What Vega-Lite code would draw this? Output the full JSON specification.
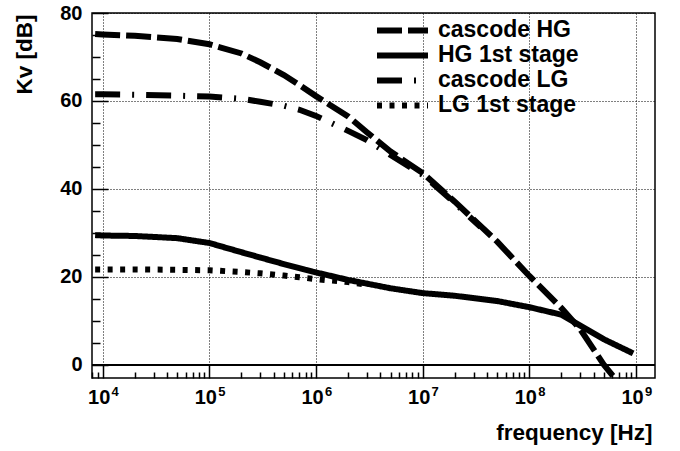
{
  "$schema": "https://vega.github.io/schema/vega-lite/v6.json",
  "width": 563,
  "height": 365,
  "autosize": "none",
  "padding": {"left": 92, "top": 13, "right": 25, "bottom": 73},
  "config": {
    "font": "Liberation Sans",
    "view": {"stroke": "black", "strokeWidth": 1.5},
    "background": "white"
  },
  "data": {"values": [
    {"series": "cascode HG", "f": 8500, "kv": 75.2},
    {"series": "cascode HG", "f": 10000, "kv": 75.1},
    {"series": "cascode HG", "f": 20000, "kv": 74.8},
    {"series": "cascode HG", "f": 50000, "kv": 74.1},
    {"series": "cascode HG", "f": 100000, "kv": 72.9},
    {"series": "cascode HG", "f": 200000, "kv": 70.8},
    {"series": "cascode HG", "f": 300000, "kv": 68.8},
    {"series": "cascode HG", "f": 500000, "kv": 65.9},
    {"series": "cascode HG", "f": 700000, "kv": 63.6},
    {"series": "cascode HG", "f": 1000000, "kv": 61.1},
    {"series": "cascode HG", "f": 2000000, "kv": 56.5},
    {"series": "cascode HG", "f": 3000000, "kv": 52.9},
    {"series": "cascode HG", "f": 5000000, "kv": 48.5},
    {"series": "cascode HG", "f": 10000000, "kv": 43.6},
    {"series": "cascode HG", "f": 20000000, "kv": 37.1},
    {"series": "cascode HG", "f": 50000000, "kv": 28.0},
    {"series": "cascode HG", "f": 100000000, "kv": 20.2},
    {"series": "cascode HG", "f": 200000000, "kv": 12.9},
    {"series": "cascode HG", "f": 300000000, "kv": 8.1},
    {"series": "cascode HG", "f": 500000000, "kv": 0.0},
    {"series": "cascode HG", "f": 630000000, "kv": -3.0},
    {"series": "HG 1st stage", "f": 8500, "kv": 29.5},
    {"series": "HG 1st stage", "f": 10000, "kv": 29.4},
    {"series": "HG 1st stage", "f": 20000, "kv": 29.3},
    {"series": "HG 1st stage", "f": 50000, "kv": 28.8},
    {"series": "HG 1st stage", "f": 100000, "kv": 27.7},
    {"series": "HG 1st stage", "f": 200000, "kv": 25.6},
    {"series": "HG 1st stage", "f": 300000, "kv": 24.4},
    {"series": "HG 1st stage", "f": 500000, "kv": 22.9},
    {"series": "HG 1st stage", "f": 1000000, "kv": 21.0},
    {"series": "HG 1st stage", "f": 2000000, "kv": 19.3},
    {"series": "HG 1st stage", "f": 5000000, "kv": 17.4},
    {"series": "HG 1st stage", "f": 10000000, "kv": 16.3},
    {"series": "HG 1st stage", "f": 20000000, "kv": 15.7},
    {"series": "HG 1st stage", "f": 50000000, "kv": 14.5},
    {"series": "HG 1st stage", "f": 100000000, "kv": 13.1},
    {"series": "HG 1st stage", "f": 200000000, "kv": 11.4},
    {"series": "HG 1st stage", "f": 300000000, "kv": 8.9},
    {"series": "HG 1st stage", "f": 500000000, "kv": 5.8},
    {"series": "HG 1st stage", "f": 940000000, "kv": 2.6},
    {"series": "cascode LG", "f": 8500, "kv": 61.5},
    {"series": "cascode LG", "f": 10000, "kv": 61.5},
    {"series": "cascode LG", "f": 20000, "kv": 61.4},
    {"series": "cascode LG", "f": 50000, "kv": 61.2},
    {"series": "cascode LG", "f": 100000, "kv": 61.0},
    {"series": "cascode LG", "f": 200000, "kv": 60.5},
    {"series": "cascode LG", "f": 300000, "kv": 59.8},
    {"series": "cascode LG", "f": 500000, "kv": 58.9},
    {"series": "cascode LG", "f": 700000, "kv": 58.0},
    {"series": "cascode LG", "f": 1000000, "kv": 56.6},
    {"series": "cascode LG", "f": 2000000, "kv": 53.2},
    {"series": "cascode LG", "f": 3000000, "kv": 51.1},
    {"series": "cascode LG", "f": 5000000, "kv": 47.7},
    {"series": "cascode LG", "f": 10000000, "kv": 43.2},
    {"series": "cascode LG", "f": 20000000, "kv": 36.8},
    {"series": "cascode LG", "f": 35000000, "kv": 31.3},
    {"series": "LG 1st stage", "f": 8500, "kv": 21.7},
    {"series": "LG 1st stage", "f": 10000, "kv": 21.7},
    {"series": "LG 1st stage", "f": 20000, "kv": 21.7},
    {"series": "LG 1st stage", "f": 50000, "kv": 21.6},
    {"series": "LG 1st stage", "f": 100000, "kv": 21.5},
    {"series": "LG 1st stage", "f": 200000, "kv": 21.1},
    {"series": "LG 1st stage", "f": 300000, "kv": 20.8},
    {"series": "LG 1st stage", "f": 500000, "kv": 20.3},
    {"series": "LG 1st stage", "f": 700000, "kv": 19.9},
    {"series": "LG 1st stage", "f": 1000000, "kv": 19.5},
    {"series": "LG 1st stage", "f": 2000000, "kv": 18.8},
    {"series": "LG 1st stage", "f": 3000000, "kv": 18.2}
  ]},
  "resolve": {"axis": {"x": "independent", "y": "independent"}},
  "layer": [
    {
      "mark": {"type": "line", "opacity": 0},
      "encoding": {
        "x": {
          "field": "f", "type": "quantitative",
          "scale": {"type": "log", "domain": [7943, 1507000000], "nice": false},
          "axis": {
            "orient": "bottom", "title": null, "domain": false, "grid": true, "ticks": false,
            "gridColor": "black", "gridDash": [1, 2], "gridWidth": 1,
            "values": [10000, 100000, 1000000, 10000000, 100000000, 1000000000],
            "labelExpr": "'' + round(log(datum.value)/LN10)",
            "labelFont": "Liberation Sans", "labelFontWeight": "bold", "labelFontSize": 13, "labelColor": "black",
            "labelOverlap": false, "labelFlush": false, "labelPadding": 7, "labelOffset": 12
          }
        },
        "y": {
          "field": "kv", "type": "quantitative",
          "scale": {"domain": [-3, 80], "nice": false, "zero": false},
          "axis": {
            "orient": "left", "title": null, "domain": false, "labels": false, "ticks": false,
            "values": [0, 20, 40, 60, 80],
            "grid": true, "gridColor": "black", "gridDash": [1, 2], "gridWidth": 1
          }
        }
      }
    },
    {
      "mark": {"type": "line", "opacity": 0},
      "encoding": {
        "x": {
          "field": "f", "type": "quantitative",
          "axis": {
            "orient": "bottom", "title": null, "domain": false, "grid": false, "labels": false,
            "values": [8000, 9000, 20000, 30000, 40000, 50000, 60000, 70000, 80000, 90000, 200000, 300000, 400000, 500000, 600000, 700000, 800000, 900000, 2000000, 3000000, 4000000, 5000000, 6000000, 7000000, 8000000, 9000000, 20000000, 30000000, 40000000, 50000000, 60000000, 70000000, 80000000, 90000000, 200000000, 300000000, 400000000, 500000000, 600000000, 700000000, 800000000, 900000000],
            "tickColor": "black", "tickWidth": 1.5, "tickSize": 6, "offset": -6
          }
        },
        "y": {
          "field": "kv", "type": "quantitative",
          "axis": {
            "orient": "left", "title": null, "domain": false, "grid": false, "labels": false,
            "values": [5, 10, 15, 25, 30, 35, 45, 50, 55, 65, 70, 75],
            "tickColor": "black", "tickWidth": 1.5, "tickSize": 8, "offset": -8
          }
        }
      }
    },
    {
      "mark": {"type": "rule", "color": "black", "strokeWidth": 1},
      "encoding": {"y": {"datum": 0, "type": "quantitative", "axis": null}}
    },
    {
      "mark": {"type": "line", "color": "black", "strokeWidth": 6, "strokeCap": "butt", "clip": true},
      "encoding": {
        "x": {
          "field": "f", "type": "quantitative",
          "axis": {
            "orient": "bottom", "offset": -13,
            "title": "frequency [Hz]",
            "titleFont": "Liberation Sans", "titleFontWeight": "bold", "titleFontSize": 22.5, "titleColor": "black",
            "titleAnchor": "end", "titleAlign": "right", "titleBaseline": "alphabetic", "titleX": 560, "titleY": 74,
            "domain": false, "grid": false,
            "values": [10000, 100000, 1000000, 10000000, 100000000, 1000000000],
            "labelExpr": "'10'",
            "labelFont": "Liberation Sans", "labelFontWeight": "bold", "labelFontSize": 20, "labelColor": "black",
            "labelOverlap": false, "labelFlush": false, "labelPadding": 9, "labelOffset": -4,
            "tickColor": "black", "tickWidth": 1.5, "tickSize": 13
          }
        },
        "y": {
          "field": "kv", "type": "quantitative",
          "axis": {
            "orient": "left", "offset": -16,
            "title": "Kv [dB]",
            "titleFont": "Liberation Sans", "titleFontWeight": "bold", "titleFontSize": 22.5, "titleColor": "black",
            "titleAngle": 270, "titleAlign": "right", "titleBaseline": "middle", "titleX": -84, "titleY": 1,
            "domain": false, "grid": false,
            "values": [0, 20, 40, 60, 80],
            "labelFont": "Liberation Sans", "labelFontWeight": "bold", "labelFontSize": 20, "labelColor": "black",
            "labelOverlap": false, "labelFlush": false, "labelPadding": 10,
            "tickColor": "black", "tickWidth": 1.5, "tickSize": 16
          }
        },
        "strokeDash": {
          "field": "series", "type": "nominal",
          "scale": {"domain": ["cascode HG", "HG 1st stage", "cascode LG", "LG 1st stage"], "range": [[25, 6], [1, 0], [25, 12, 2, 12], [5, 7.5]]},
          "legend": {
            "orient": "none", "legendX": 282, "legendY": 5, "title": null, "padding": 0,
            "symbolType": "stroke", "symbolSize": 2601, "symbolStrokeWidth": 6, "symbolStrokeColor": "black",
            "labelFont": "Liberation Sans", "labelFontWeight": "bold", "labelFontSize": 23, "labelColor": "black",
            "labelOffset": 7, "rowPadding": 0, "clipHeight": 24.8, "labelLimit": 400
          }
        }
      }
    }
  ]
}
